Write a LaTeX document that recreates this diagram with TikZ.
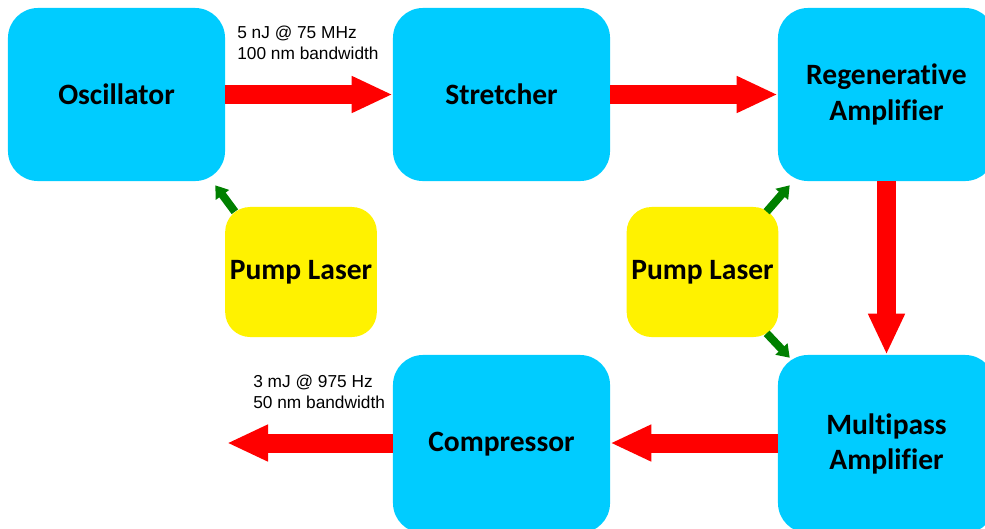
\documentclass[tikz,border=0pt]{standalone}
\usepackage{fontspec}
\usepackage{xcolor}
\setmainfont{Carlito}[Ligatures=NoCommon]
\newfontfamily\notefont{Liberation Sans}
\usetikzlibrary{arrows.meta,positioning,calc}
\definecolor{stagecyan}{RGB}{0,204,255}
\definecolor{pumpgreen}{RGB}{0,128,0}

\begin{document}
\begin{tikzpicture}[x=0.025cm, y=-0.025cm]
  % Amplifier chain: stages, pump lasers and beam arrows
  \tikzstyle{stage} = [rectangle, rounded corners=0.75cm, fill=stagecyan, minimum width=5.425cm, minimum height=4.325cm, align=center, font=\fontsize{21}{25.2}\selectfont\bfseries]
  \tikzstyle{pump} = [rectangle, rounded corners=0.625cm, fill=yellow, minimum width=3.7cm, minimum height=3.25cm, align=center, font=\fontsize{21}{25.2}\selectfont\bfseries]
  \tikzstyle{beam} = [draw=red, line width=0.475cm, -{Triangle[width=0.85cm, length=1.025cm]}]
  \tikzstyle{pumpbeam} = [draw=pumpgreen, line width=0.2cm, -{Triangle[width=0.4cm, length=0.3cm]}]
  \tikzstyle{spec} = [anchor=north west, inner sep=0pt, align=left, font=\notefont\fontsize{12.3}{15}\selectfont]

  \useasboundingbox (0,0) rectangle (985,528);

  % Top row
  \node[stage] (osc) at (116.5, 94.5) {Oscillator};
  \node[stage] (str) at (501.5, 94.5) {Stretcher};
  \node[stage] (regen) at (886.5, 94.5) {Regenerative\\Amplifier};

  % Bottom row (runs past the lower edge)
  \node[stage, minimum height=4.45cm] (comp) at (501.5, 444) {Compressor};
  \node[stage, minimum height=4.45cm] (multi) at (886.5, 444) {Multipass\\Amplifier};

  % Pump lasers
  \node[pump] (pumpa) at (301, 272) {Pump Laser};
  \node[pump] (pumpb) at (702.5, 272) {Pump Laser};

  % Pulse specifications
  \node[spec] (specin) at (237, 26) {5 nJ @ 75 MHz\\100 nm bandwidth};
  \node[spec] (specout) at (253, 375) {3 mJ @ 975 Hz\\50 nm bandwidth};

  % Beam path
  \coordinate (out) at (227, 443);
  \draw[beam] (osc) -- (str);
  \draw[beam] (str) -- (regen);
  \draw[beam] (regen) -- (multi);
  \draw[beam] (multi.west |- out) -- (comp.east |- out);
  \draw[beam] (comp.west |- out) -- (out);

  % Pump beams
  \draw[pumpbeam] ([shift={(10,5)}]pumpa.north west) -- ([shift={(-10,4)}]osc.south east);
  \draw[pumpbeam] ([shift={(-12,5)}]pumpb.north east) -- ([shift={(12,4)}]regen.south west);
  \draw[pumpbeam] ([shift={(-12,-4)}]pumpb.south east) -- ([shift={(12,3)}]multi.north west);

\end{tikzpicture}
\end{document}
